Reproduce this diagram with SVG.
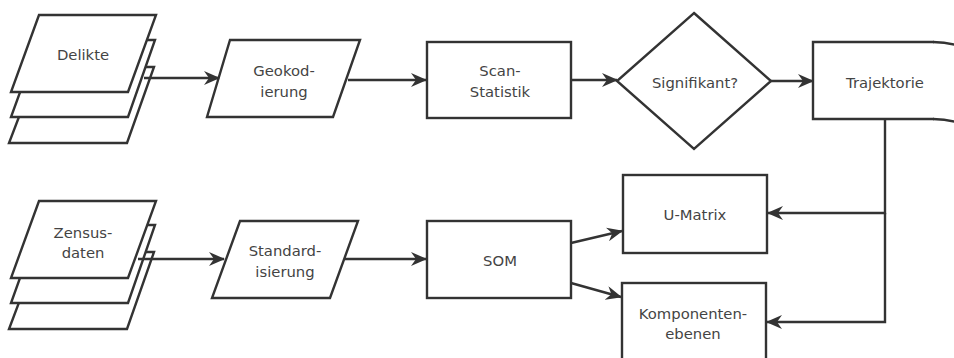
<svg xmlns="http://www.w3.org/2000/svg" width="954" height="358" viewBox="0 0 954 358">
  <style>
    .shape { fill: #ffffff; stroke: #333333; stroke-width: 2.4; stroke-linejoin: miter; }
    .edge { fill: none; stroke: #333333; stroke-width: 2.4; }
    .label { font-family: "DejaVu Sans", "Liberation Sans", sans-serif; font-size: 14.8px; fill: #444444; text-anchor: middle; dominant-baseline: central; }
  </style>
  <defs>
    <marker id="arrow" viewBox="0 0 16 14" refX="15" refY="7" markerWidth="16" markerHeight="14" markerUnits="userSpaceOnUse" orient="auto">
      <path d="M0,0 L16,7 L0,14 L5,7 z" fill="#333333"/>
    </marker>
  </defs>
  <rect width="954" height="358" fill="#ffffff"/>

  <!-- Stacked input data: offences -->
  <g id="delikte">
    <polygon class="shape" points="38,67 154,67 127,143 9,143"/>
    <polygon class="shape" points="39,40 155,40 128,117 11,117"/>
    <polygon class="shape" points="39,15 156,15 128,92 11,92"/>
    <text class="label" x="83" y="54">Delikte</text>
  </g>

  <!-- Stacked input data: census -->
  <g id="zensusdaten">
    <polygon class="shape" points="38,252 154,252 127,329 9,329"/>
    <polygon class="shape" points="39,225 155,225 128,303 11,303"/>
    <polygon class="shape" points="39,201 156,201 128,278 11,278"/>
    <text class="label" x="83" y="232">Zensus-</text>
    <text class="label" x="83" y="252">daten</text>
  </g>

  <g id="geokodierung">
    <polygon class="shape" points="230,40 360,40 333,117 207,117"/>
    <text class="label" x="284" y="70">Geokod-</text>
    <text class="label" x="284" y="91">ierung</text>
  </g>

  <g id="standardisierung">
    <polygon class="shape" points="240,221 358,221 330,298 212,298"/>
    <text class="label" x="285" y="250">Standard-</text>
    <text class="label" x="285" y="271">isierung</text>
  </g>

  <g id="scan-statistik">
    <rect class="shape" x="427" y="42" width="144" height="76"/>
    <text class="label" x="500" y="70">Scan-</text>
    <text class="label" x="500" y="91">Statistik</text>
  </g>

  <g id="som">
    <rect class="shape" x="427" y="221" width="144" height="77"/>
    <text class="label" x="500" y="260">SOM</text>
  </g>

  <g id="signifikant">
    <polygon class="shape" points="694,13 771,81 694,149 617,81"/>
    <text class="label" x="695" y="82">Signifikant?</text>
  </g>

  <!-- Open-ended shape cut by the right border: left side plus gently bent top and bottom edges -->
  <g id="trajektorie">
    <path class="edge" d="M934,42 L813,42 L813,119 L934,119"/>
    <path class="edge" d="M933,42 Q946,42.4 956,45"/>
    <path class="edge" d="M933,119 Q946,119.4 956,122"/>
    <text class="label" x="885" y="82">Trajektorie</text>
  </g>

  <g id="u-matrix">
    <rect class="shape" x="623" y="175" width="144" height="78"/>
    <text class="label" x="695" y="214">U-Matrix</text>
  </g>

  <g id="komponentenebenen">
    <rect class="shape" x="622" y="283" width="144" height="90"/>
    <text class="label" x="693" y="313">Komponenten-</text>
    <text class="label" x="693" y="333">ebenen</text>
  </g>

  <!-- Connectors -->
  <g id="connectors">
    <line class="edge" x1="144" y1="78" x2="219" y2="78" marker-end="url(#arrow)"/>
    <line class="edge" x1="348" y1="80" x2="426" y2="80" marker-end="url(#arrow)"/>
    <line class="edge" x1="571" y1="80" x2="617" y2="80" marker-end="url(#arrow)"/>
    <line class="edge" x1="771" y1="81" x2="813" y2="81" marker-end="url(#arrow)"/>
    <line class="edge" x1="138" y1="259" x2="224" y2="259" marker-end="url(#arrow)"/>
    <line class="edge" x1="345" y1="259" x2="426" y2="259" marker-end="url(#arrow)"/>
    <line class="edge" x1="571" y1="243" x2="622" y2="231" marker-end="url(#arrow)"/>
    <line class="edge" x1="571" y1="283" x2="621" y2="297" marker-end="url(#arrow)"/>
    <polyline class="edge" points="885,119 885,213 768,213" marker-end="url(#arrow)"/>
    <polyline class="edge" points="885,213 885,322 767,322" marker-end="url(#arrow)"/>
  </g>
</svg>
